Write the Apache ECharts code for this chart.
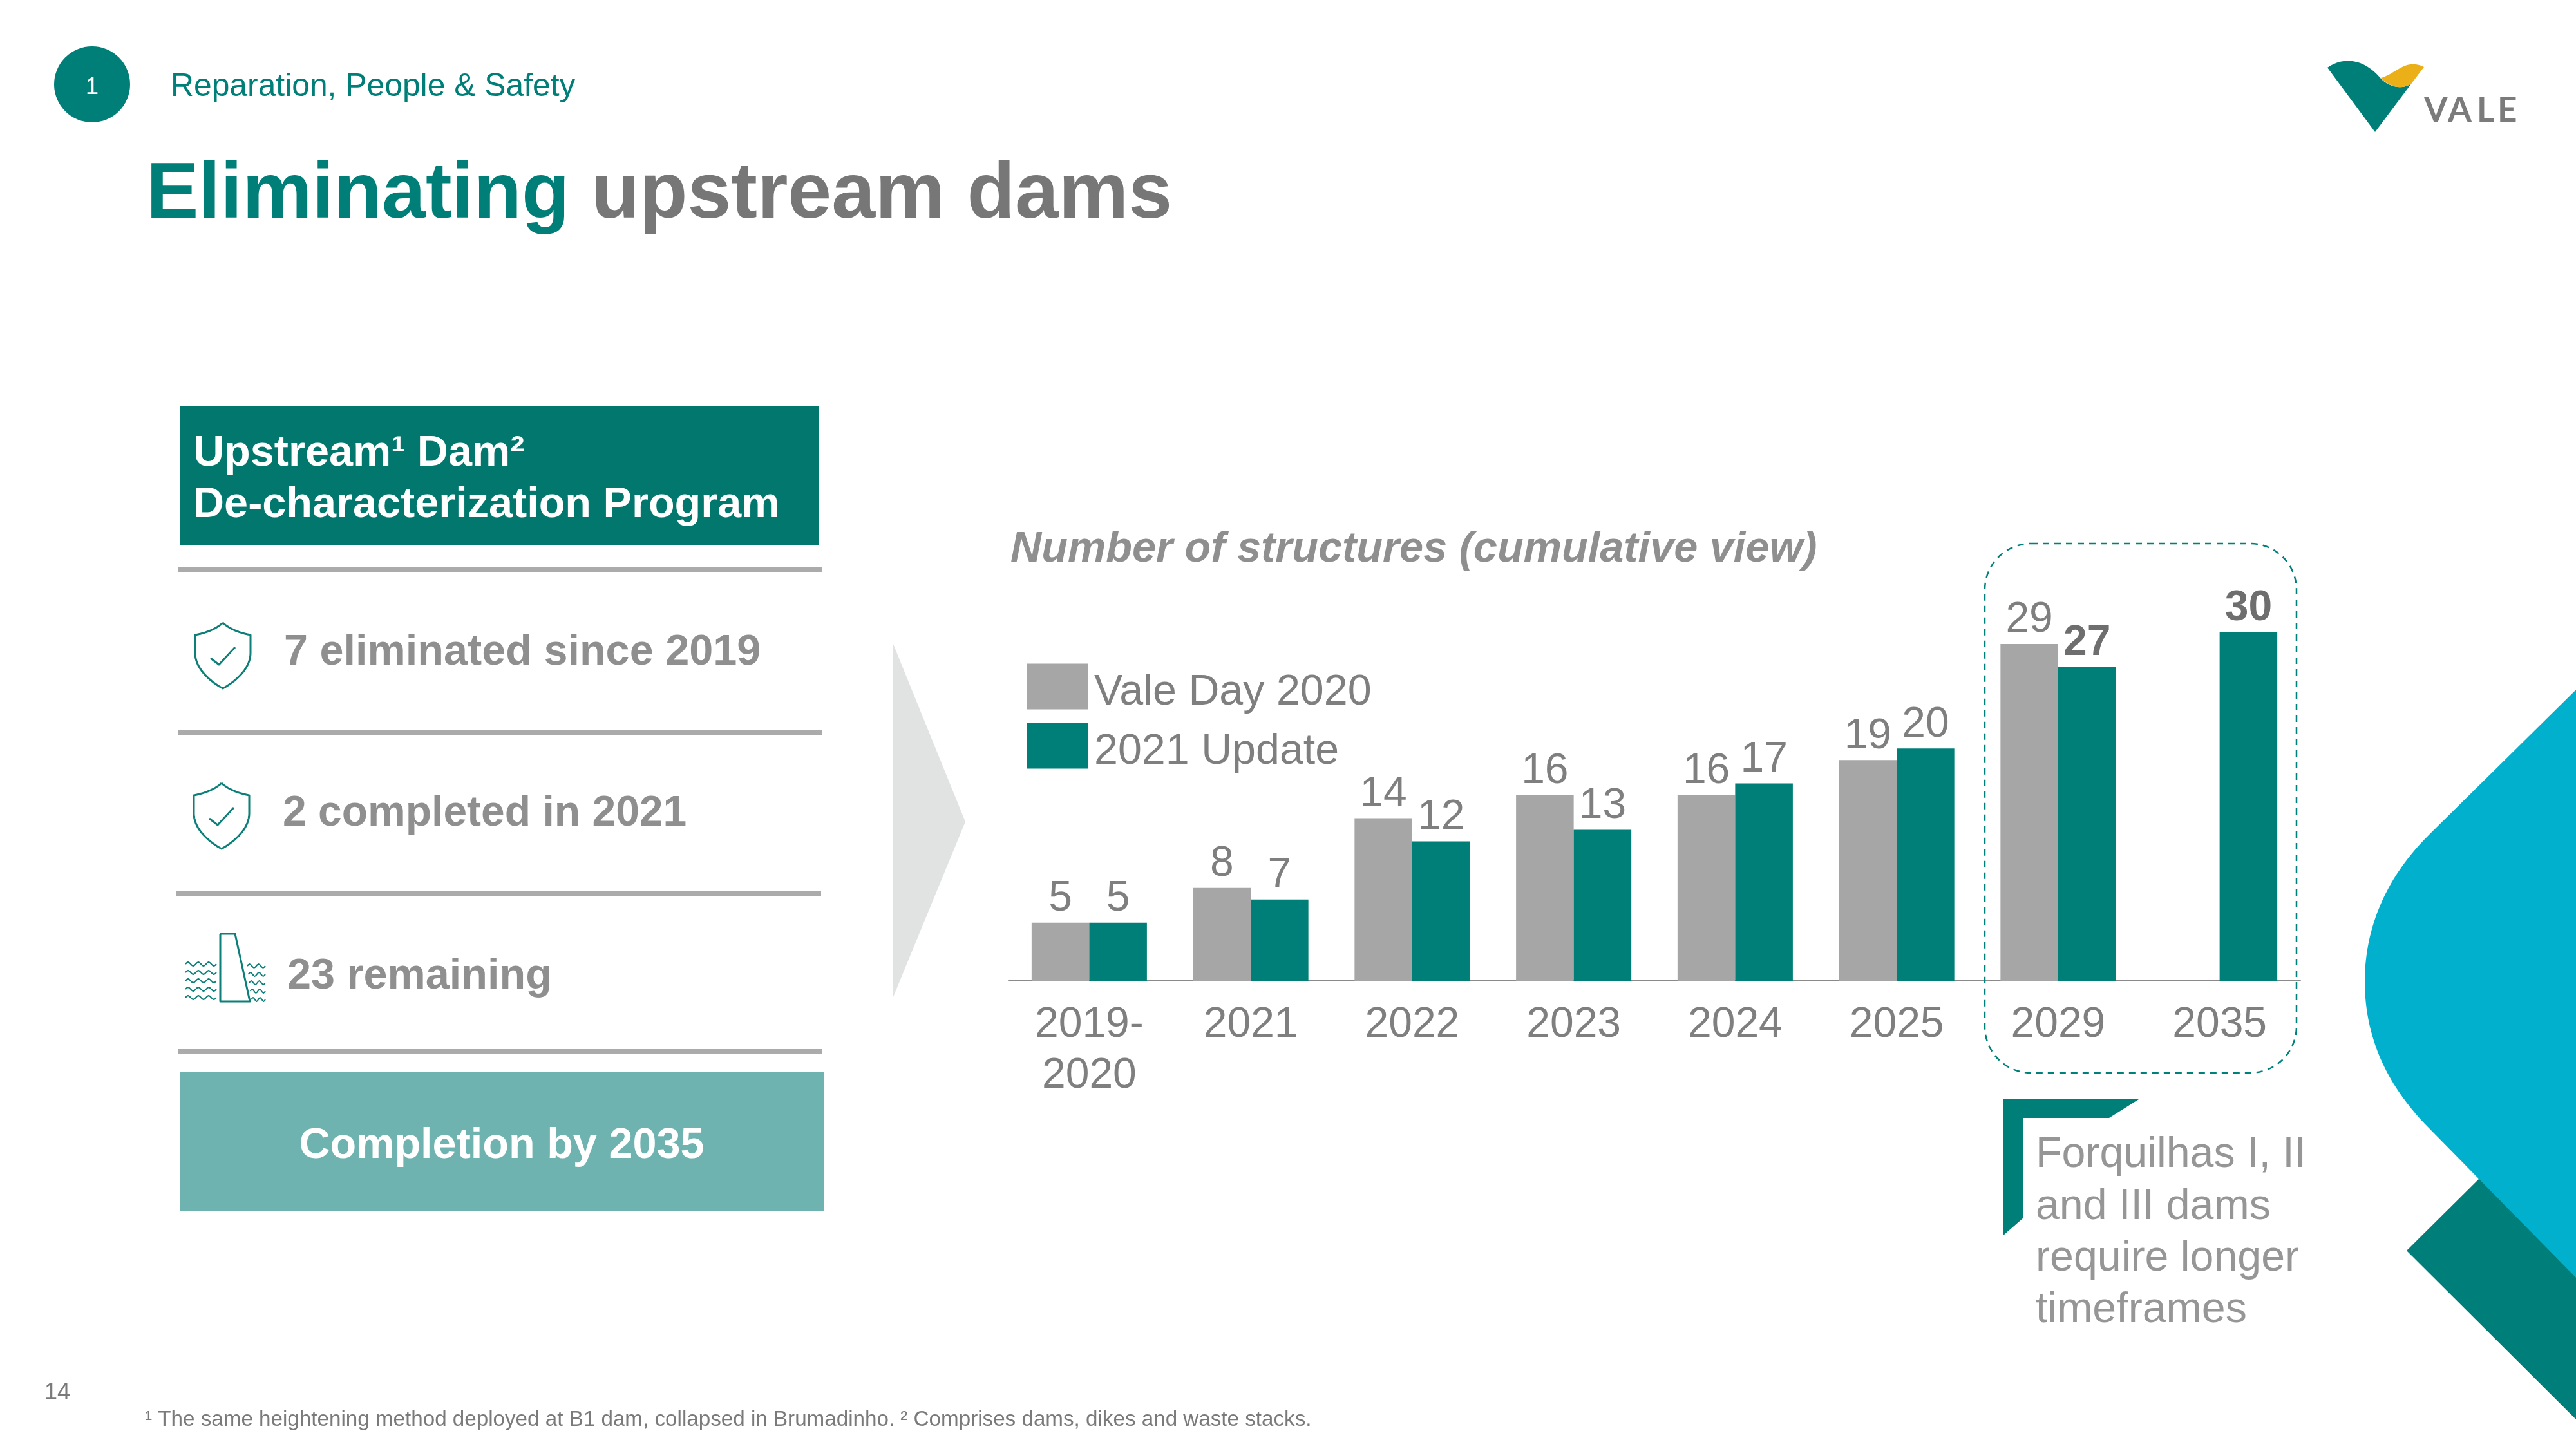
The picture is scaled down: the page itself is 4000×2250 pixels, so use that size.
<!DOCTYPE html>
<html>
<head>
<meta charset="utf-8">
<style>html,body{margin:0;padding:0;background:#fff}#c{width:4000px;height:2250px}</style>
<script src="https://cdn.jsdelivr.net/npm/echarts@6/dist/echarts.min.js"></script>
</head>
<body>
<div id="c"></div>
<script>
const categories = ['2019-\n2020','2021','2022','2023','2024','2025','2029','2035'];
const valeDay2020 = [5,8,14,16,16,19,29,null];
const update2021 = [5,7,12,13,17,20,27,30];
const boldUpdateCategories = ['2029','2035'];
const legendNames = ['Vale Day 2020','2021 Update'];
const chartTitle = 'Number of structures (cumulative view)';
const calloutLines = ['Forquilhas I, II','and III dams','require longer','timeframes'];

const FONT = '"Liberation Sans", Arial, sans-serif';
const TEAL = '#007E78', GREY = '#A6A6A6', LABEL = '#7F7F7F', SOFT = '#8F8F8F';

function txt(s, x, base, size, fill, weight, align, z) {
  return {type:'text', z: z||5, silent:true, style:{text:s, x:x, y:base-0.27*size, fontSize:size,
    fontFamily:FONT, fontWeight:weight||'normal', fill:fill, align:align||'left', verticalAlign:'middle',
    textAlign:align||'left', textVerticalAlign:'middle'}};
}
function bez(p0,c1,c2,p1){const o=[];for(let i=0;i<=28;i++){const t=i/28,u=1-t;
  o.push([u*u*u*p0[0]+3*u*u*t*c1[0]+3*u*t*t*c2[0]+t*t*t*p1[0],u*u*u*p0[1]+3*u*u*t*c1[1]+3*u*t*t*c2[1]+t*t*t*p1[1]]);}return o;}
function poly(points,fill,z){return {type:'polygon',z:z||1,silent:true,shape:{points:points},style:{fill:fill}};}
function line(points,stroke,w,z){return {type:'polyline',z:z||5,silent:true,shape:{points:points},style:{stroke:stroke,lineWidth:w,fill:'none',lineJoin:'round'}};}
function rect(x,y,w,h,fill,z){return {type:'rect',z:z||1,silent:true,shape:{x:x,y:y,width:w,height:h},style:{fill:fill}};}
function shield(cx,cy){
  const off=(a)=>a.map(p=>[p[0]+cx,p[1]+cy]);
  const pts=[].concat(
    bez([0,-51],[12,-40],[28,-35],[43,-32]),
    [[43,-4]],
    bez([43,-4],[43,20],[20,40],[0,51]),
    bez([0,51],[-20,40],[-43,20],[-43,-4]),
    [[-43,-32]],
    bez([-43,-32],[-28,-35],[-12,-40],[0,-51]));
  return [line(off(pts),'#0B7F78',3), line(off([[-19,4],[-6,14],[19,-13]]),'#0B7F78',3)];
}
function wave(x0,x1,y,n){const pts=[];const step=(x1-x0)/(n*8);
  for(let i=0;i<=n*8;i++){const k=i%8;const h=[0,-2,-3,-2,0,2,3,2][k];pts.push([x0+i*step,y+h]);}
  return line(pts,'#0B7F78',2);}

const decor = [];
// background corner shapes
decor.push(poly([[3737,1942],[3860,1820],[4000,1950],[4000,2204]],'#007E7A',0));
decor.push(poly([].concat([[4000,1071]],bez([3772,1296],[3702,1365],[3672,1445],[3672,1524]),bez([3672,1524],[3672,1605],[3702,1682],[3772,1752]),[[4000,1984]]),'#00B0CC',1));
// header
decor.push({type:'circle',z:2,silent:true,shape:{cx:143,cy:131,r:59},style:{fill:'#007E78'}});
decor.push(txt('1',143,146,36,'#FFFFFF','normal','center'));
decor.push(txt('Reparation, People & Safety',265,149,49.8,'#007E78'));
// logo
decor.push(poly([].concat(bez([3614,105],[3640,87],[3672,92],[3697,122]),bez([3697,122],[3708,134],[3730,141],[3745,129]),[[3688,205]]),'#007E78',2));
decor.push(poly([].concat(bez([3697,121],[3722,114],[3735,90],[3764,104]),[[3745,129]],bez([3745,129],[3730,141],[3708,134],[3697,121])),'#EBAF17',2));
[['V',3764],['A',3801],['L',3846],['E',3878]].forEach(a=>{
  decor.push({type:'text',z:5,silent:true,style:{text:a[0],x:a[1],y:172,fontSize:53,fontFamily:'Lato, "Noto Sans", sans-serif',fontWeight:'bold',fill:'#7B7B7B',align:'left',verticalAlign:'middle',textAlign:'left',textVerticalAlign:'middle'}});
});
// left panel
decor.push(rect(279,631,993,215,'#02776E',2));
decor.push(txt('Upstream\u00B9 Dam\u00B2',300,723,66.6,'#FFFFFF','bold'));
decor.push(txt('De-characterization Program',300,803,66.6,'#FFFFFF','bold'));
[[276,1277,884],[276,1277,1138],[274,1275,1387],[276,1277,1633]].forEach(d=>decor.push(rect(d[0],d[2]-4,d[1]-d[0],8,'#ABABAB',2)));
decor.push(txt('7 eliminated since 2019',441,1032,66.6,SOFT,'bold'));
decor.push(txt('2 completed in 2021',439,1282,66,SOFT,'bold'));
decor.push(txt('23 remaining',446,1535,66.6,SOFT,'bold'));
shield(346,1018).forEach(e=>decor.push(e));
shield(344,1267).forEach(e=>decor.push(e));
decor.push(line([[342,1450],[365,1450],[388,1555],[342,1555],[342,1450]],'#0B7F78',3));
[1497,1510,1523,1536,1549].forEach(y=>{decor.push(wave(288,336,y,3));});
[1500,1513,1526,1539,1552].forEach(y=>{decor.push(wave(384+(y-1500)*0.12,412,y,2));});
decor.push(rect(279,1665,1001,215,'#6EB3AF',2));
decor.push(txt('Completion by 2035',779,1798,66.6,'#FFFFFF','bold','center'));
decor.push(poly([[1387,1000],[1499,1276],[1387,1548]],'#E1E3E3',1));
// highlight + callout
decor.push({type:'rect',z:10,silent:true,shape:{x:3082,y:844,width:484,height:822,r:72},style:{fill:'none',stroke:'#00807A',lineWidth:2.5,lineDash:[10,8]}});
decor.push(poly([[3111,1707],[3321,1707],[3275,1736],[3142,1736],[3142,1891],[3111,1918]],'#007E78',2));
calloutLines.forEach((s,i)=>decor.push(txt(s,3161,1812+i*80.3,66.3,'#969696')));
// footer
decor.push(txt('14',69,2173,36,'#7A7A7A'));
decor.push(txt('\u00B9 The same heightening method deployed at B1 dam, collapsed in Brumadinho. \u00B2 Comprises dams, dikes and waste stacks.',225,2214,33.2,'#7A7A7A'));

const labelBase = {show:true, position:'top', distance:4, fontFamily:FONT, fontSize:66, color:LABEL};
const option = {
  animation:false,
  backgroundColor:'#FFFFFF',
  textStyle:{fontFamily:FONT},
  title:[
    {left:227, top:243, padding:0,
     text:'{a|Eliminating}{b| upstream dams}',
     textStyle:{rich:{a:{fontFamily:FONT,fontSize:122,fontWeight:'bold',color:'#007E78'},
                      b:{fontFamily:FONT,fontSize:122,fontWeight:'bold',color:'#777777'}}}},
    {left:1569, top:820, padding:0, text:chartTitle,
     textStyle:{fontFamily:FONT,fontSize:66.7,fontWeight:'bold',fontStyle:'italic',color:SOFT}}
  ],
  legend:{orient:'vertical', left:1594, top:1023, padding:0, itemWidth:95, itemHeight:71, itemGap:6,
    data:legendNames, icon:'rect', selectedMode:false,
    formatter:'{t|{name}}',
    textStyle:{fontFamily:FONT,fontSize:66.4,color:LABEL,
      rich:{t:{fontFamily:FONT,fontSize:66.4,color:LABEL,lineHeight:44,padding:[20,0,0,5]}}}},
  grid:{left:1566, width:2006, top:982, height:541, containLabel:false},
  xAxis:{type:'category', data:categories,
    axisLine:{lineStyle:{color:'#8A8A8A',width:2}}, axisTick:{show:false},
    axisLabel:{interval:0, margin:29, fontFamily:FONT, fontSize:66, lineHeight:79, color:LABEL}},
  yAxis:{type:'value', min:0, max:30, show:false, splitLine:{show:false}},
  series:[
    {name:legendNames[0], type:'bar', data:valeDay2020, barWidth:'35.7%', barGap:'0%',
     itemStyle:{color:GREY}, label:labelBase},
    {name:legendNames[1], type:'bar', data:update2021.map((v,i)=>boldUpdateCategories.includes(categories[i])
        ? {value:v,label:{fontWeight:'bold',color:'#6E6E6E'}} : v),
     barWidth:'35.7%', itemStyle:{color:TEAL}, label:labelBase}
  ],
  graphic:{elements:decor}
};
const chart = echarts.init(document.getElementById('c'), null, {renderer:'canvas', width:4000, height:2250});
chart.setOption(option);
</script>
</body>
</html>
